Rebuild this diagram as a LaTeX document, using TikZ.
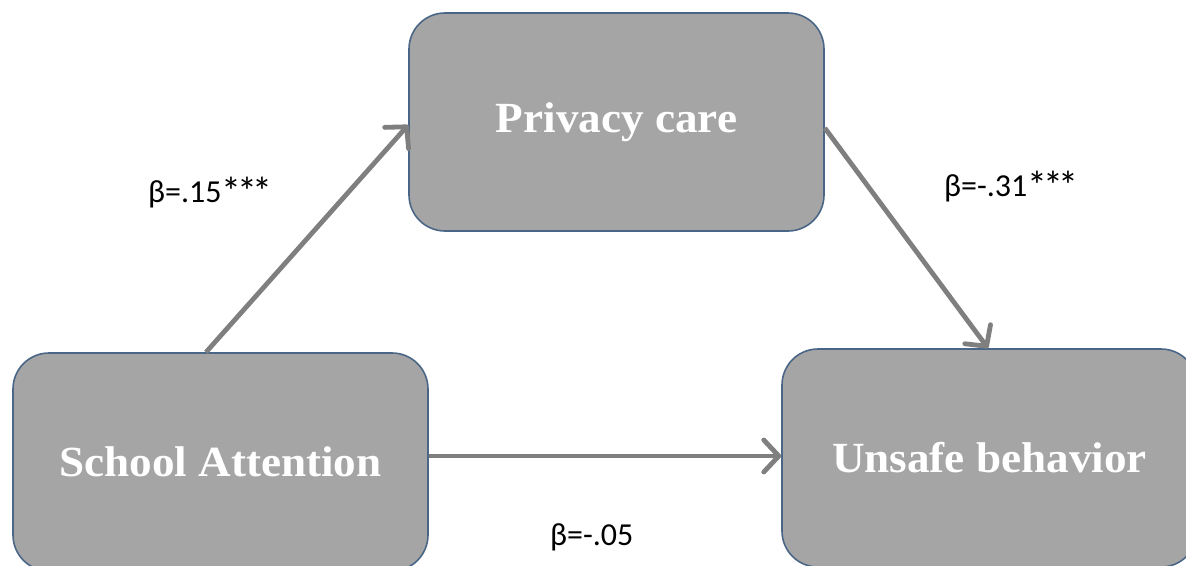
\documentclass[tikz,border=0pt]{standalone}
\usepackage{fontspec}
\setmainfont{Liberation Serif}
\newfontfamily\labelfont{Carlito}
\usetikzlibrary{arrows.meta}

\definecolor{boxfill}{HTML}{A5A5A5}
\definecolor{boxedge}{HTML}{4A6686}
\definecolor{arrowgray}{HTML}{7F7F7F}

\newcommand{\stars}{\raisebox{-3pt}{\scalebox{1.25}{*\kern-3.5pt*\kern-3.5pt*}}}

\tikzset{
  varbox/.style={draw=boxedge, line width=1.6pt, fill=boxfill, rounded corners=36pt,
    minimum width=415pt, minimum height=218pt, inner sep=0pt,
    text=white, font=\fontsize{43}{48}\selectfont\bfseries},
  path arrow/.style={draw=arrowgray, line width=4.8pt,
    -{Straight Barb[length=15pt, width=32pt, line width=4.8pt, round]}},
  coef/.style={anchor=base west, inner sep=0pt, text=black,
    font=\labelfont\fontsize{32}{36}\selectfont}
}

\begin{document}
\begin{tikzpicture}[x=1pt, y=-1pt]
  \useasboundingbox (0,0) rectangle (1186,565);
  \clip (0,0) rectangle (1186,565);

  % the three variables
  \node[varbox] (pc) at (616.5,122) {\scalebox{1.05}[1]{Privacy care}};
  \node[varbox] (sa) at (220.5,462) {\scalebox{1.05}[1]{School Attention}};
  \node[varbox] (ub) at (989.5,458) {\scalebox{1.05}[1]{Unsafe behavior}};

  % paths between them
  \draw[path arrow] ([xshift=-14.5pt]sa.north) -- ([yshift=-3pt]pc.west);
  \draw[path arrow] ([yshift=-6pt]pc.east) -- ([xshift=-1.5pt]ub.north);
  \draw[path arrow] ([yshift=6pt]sa.east) -- ([yshift=2pt]ub.west);

  % path coefficients
  \node[coef] (b1) at (148,202) {β=.15\stars};
  \node[coef] (b2) at (944,196) {β=-.31\stars};
  \node[coef] (b3) at (550,545) {β=-.05};
\end{tikzpicture}
\end{document}
